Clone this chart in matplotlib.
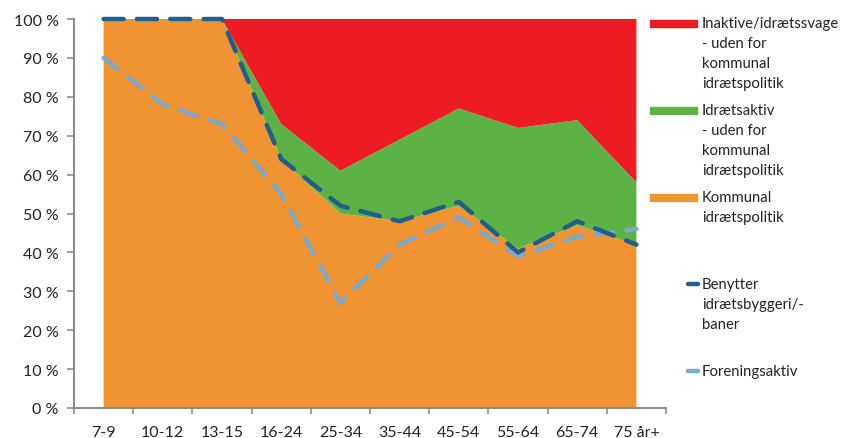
import matplotlib
matplotlib.use("Agg")
import matplotlib.pyplot as plt
import numpy as np
from matplotlib.patches import Rectangle
from matplotlib.lines import Line2D

plt.rcParams['font.family'] = ['Lato', 'DejaVu Sans']

categories = ["7-9", "10-12", "13-15", "16-24", "25-34", "35-44", "45-54", "55-64", "65-74", "75 år+"]
kommunal = [100, 100, 100, 64, 50, 48, 52, 41, 47, 42]
idraetsaktiv = [0, 0, 0, 9, 11, 21, 25, 31, 27, 16]
inaktive = [0, 0, 0, 27, 39, 31, 23, 28, 26, 42]
benytter = [100, 100, 100, 64, 52, 48, 53, 40, 48, 42]
forening = [90, 78, 73, 55, 27, 42, 49, 39, 44, 46]

c_red = "#ED1C24"
c_green = "#5DB245"
c_orange = "#F09433"
c_dark = "#1F5F8A"
c_light = "#7AA9CB"
c_axis = "#8C8C8C"

fig = plt.figure(figsize=(8.48, 4.39), dpi=100)
ax = fig.add_axes([74/848, 1-409/439, (666-74)/848, (409-20)/439])

x = np.arange(len(categories))
k = np.array(kommunal, float) / 100
g = np.array(idraetsaktiv, float) / 100
r = np.array(inaktive, float) / 100
ax.stackplot(x, k, g, r, colors=[c_orange, c_green, c_red], linewidth=0)

ax.plot(x, np.array(benytter) / 100, color=c_dark, lw=3.2, dashes=(4.5, 3),
        dash_capstyle='round', zorder=5, clip_on=False)
ax.plot(x, np.array(forening) / 100, color=c_light, lw=3.2, dashes=(4, 3),
        dash_capstyle='round', zorder=4, clip_on=False)

ax.set_xlim(-0.5, len(categories) - 0.5)
ax.set_ylim(0, 1)
ax.set_yticks(np.linspace(0, 1, 11))
ax.set_yticklabels([f"{int(v)} %" for v in np.linspace(0, 100, 11)], fontsize=11.5, color="#222222")
ax.set_xticks(x)
ax.set_xticklabels(categories, fontsize=11.5, color="#222222")
ax.set_xticks(np.arange(-0.5, len(categories)), minor=True)
ax.tick_params(axis='x', which='major', length=0, pad=12)
ax.tick_params(axis='x', which='minor', length=4, color=c_axis, width=1.2, direction='out')
ax.tick_params(axis='y', length=5, color=c_axis, width=1.2, direction='out', pad=6)
for s in ['top', 'right']:
    ax.spines[s].set_visible(False)
for s in ['left', 'bottom']:
    ax.spines[s].set_color(c_axis)
    ax.spines[s].set_linewidth(1.5)

W, H = 848, 439
def fx(px):
    return px / W
def fy(py):
    return 1 - py / H

legend_fs = 10.7
def patch(y, color):
    fig.patches.append(Rectangle((fx(650), fy(y + 3.5)), 47 / W, 7 / H, color=color,
                                 transform=fig.transFigure, figure=fig))

def text_lines(y0, lines, step=20):
    for i, t in enumerate(lines):
        fig.text(fx(702), fy(y0 + i * step), t, fontsize=legend_fs, color="#222222", va='center', ha='left')

patch(24, c_red)
text_lines(24, ["Inaktive/idrætssvage", "- uden for", "kommunal", "idrætspolitik"])
patch(111, c_green)
text_lines(111, ["Idrætsaktiv", "- uden for", "kommunal", "idrætspolitik"])
patch(198, c_orange)
text_lines(198, ["Kommunal", "idrætspolitik"])

fig.lines.append(Line2D([fx(688), fx(698)], [fy(285), fy(285)], color=c_dark, lw=3.2,
                        solid_capstyle='round', transform=fig.transFigure, figure=fig))
text_lines(285, ["Benytter", "idrætsbyggeri/-", "baner"])
fig.lines.append(Line2D([fx(688), fx(698)], [fy(372), fy(372)], color=c_light, lw=3.2,
                        solid_capstyle='round', transform=fig.transFigure, figure=fig))
text_lines(372, ["Foreningsaktiv"])

fig.savefig("out.png", dpi=100)
